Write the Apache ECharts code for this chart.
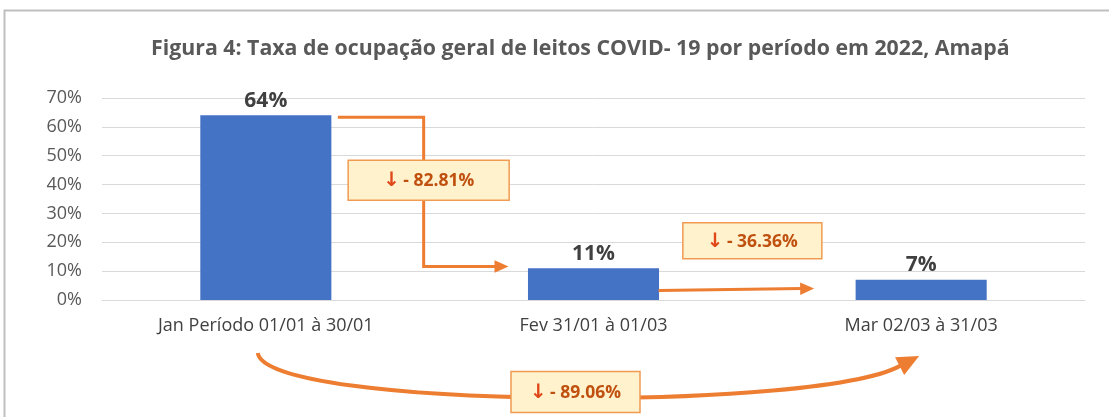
<!DOCTYPE html>
<html>
<head>
<meta charset="utf-8">
<script src="https://cdn.jsdelivr.net/npm/echarts@6/dist/echarts.min.js"></script>
<style>
html, body { margin: 0; padding: 0; background: #fff; }
#main { width: 1109px; height: 417px; }
</style>
</head>
<body>
<div id="main"></div>
<script>
// dados
const periodos = ['Jan Período 01/01 à 30/01', 'Fev 31/01 à 01/03', 'Mar 02/03 à 31/03']
const taxas = [64, 11, 7]
const variacoes = ['- 82.81%', '- 36.36%', '- 89.06%']
const ticksY = [0, 10, 20, 30, 40, 50, 60, 70]

const fonte = '"Open Sans", sans-serif'
const laranja = '#ed7d31'

const chart = echarts.init(document.getElementById('main'))

let option = {
	animation: false,
	title: {
		text: 'Figura 4: Taxa de ocupação geral de leitos COVID- 19 por período em 2022, Amapá',
		left: 146,
		top: 33,
		textStyle: { fontFamily: fonte, fontSize: 21.3, fontWeight: 'bold', color: '#595959' }
	},
	grid: { left: 102, right: 24, top: 98, bottom: 117 },
	xAxis: {
		type: 'category',
		data: periodos,
		axisLine: { show: true, lineStyle: { color: '#d9d9d9', width: 1 } },
		axisTick: { show: false },
		axisLabel: { color: '#404040', fontFamily: fonte, fontSize: 18, margin: 17 }
	},
	yAxis: {
		type: 'value',
		min: ticksY[0],
		max: ticksY[ticksY.length - 1],
		interval: 10,
		axisLine: { show: false },
		axisTick: { show: false },
		splitLine: { lineStyle: { color: '#d9d9d9', width: 1 } },
		axisLabel: { color: '#595959', fontFamily: fonte, fontSize: 18, margin: 20, formatter: '{value}%' }
	},
	series: [{
		type: 'bar',
		data: taxas,
		barWidth: '40%',
		itemStyle: { color: '#4472c4' },
		label: {
			show: true,
			position: 'top',
			distance: 4,
			formatter: '{c}%',
			fontFamily: fonte, fontSize: 21, fontWeight: 'bold', color: '#404040'
		}
	}]
}
chart.setOption(option)

// setas e caixas de variação, posicionadas pelas escalas do gráfico
function px(i, v) { return chart.convertToPixel({ seriesIndex: 0 }, [i, v]) }
const meiaBarra = 65
const p0 = px(0, taxas[0]), p1 = px(1, taxas[1]), p2 = px(2, taxas[2])
const base = px(0, 0)[1]
const fronteira01 = (p0[0] + p1[0]) / 2 - 6

function caixa(cx, cy, w, h, txt) {
	return [
		{ type: 'rect', z: 30, shape: { x: cx - w / 2, y: cy - h / 2, width: w, height: h },
			style: { fill: '#fff2cc', stroke: '#f19b52', lineWidth: 1.5 } },
		{ type: 'text', z: 31, x: cx, y: cy + 1,
			style: { text: '{a|↓} {b|' + txt + '}', align: 'center', verticalAlign: 'middle',
				rich: {
					a: { fill: '#e0481a', fontFamily: 'DejaVu Sans', fontSize: 20, fontWeight: 'bold' },
					b: { fill: '#c0500f', fontFamily: fonte, fontSize: 17.5, fontWeight: 'bold' }
				} } }
	]
}

function ponta(x, y, dx, dy, tam) {
	const n = Math.hypot(dx, dy), ux = dx / n, uy = dy / n
	const bx = x - ux * tam, by = y - uy * tam
	return {
		type: 'polygon', z: 15,
		shape: { points: [[x, y], [bx - uy * tam * 0.45, by + ux * tam * 0.45], [bx + uy * tam * 0.45, by - ux * tam * 0.45]] },
		style: { fill: laranja }
	}
}

// seta 1: Jan -> Fev
const y1a = p0[1] + 2
const y1b = px(1, 11.6)[1]
const x1fim = p1[0] - meiaBarra - 20
// seta 2: Fev -> Mar
const y2 = px(1, 3.6)[1]
const x2fim = p2[0] - meiaBarra - 42
// seta 3: curva Jan -> Mar
const c0 = [p0[0] - 8, base + 53]
const c3 = [p2[0] - 4, base + 57]
const cp1 = [p0[0] - 1, base + 110]
const cp2 = [p2[0] - 90, base + 112]

const grafico = [
	{ type: 'rect', silent: true, shape: { x: 4.5, y: 10.5, width: 1200, height: 500 },
		style: { fill: 'none', stroke: '#bfbfbf', lineWidth: 2 }, z: 0 },
	{ type: 'polyline', z: 10,
		shape: { points: [[p0[0] + meiaBarra + 7, y1a], [fronteira01, y1a], [fronteira01, y1b], [x1fim - 12, y1b]] },
		style: { stroke: laranja, lineWidth: 3, fill: null } },
	ponta(x1fim, y1b, 1, 0, 14),
	{ type: 'line', z: 10,
		shape: { x1: p1[0] + meiaBarra, y1: y2 + 1, x2: x2fim - 12, y2: y2 - 1 },
		style: { stroke: laranja, lineWidth: 3 } },
	ponta(x2fim, y2 - 1, 1, -0.012, 14),
	{ type: 'bezierCurve', z: 10,
		shape: { x1: c0[0], y1: c0[1], cpx1: cp1[0], cpy1: cp1[1], cpx2: cp2[0], cpy2: cp2[1], x2: c3[0] - 14, y2: c3[1] + 7 },
		style: { stroke: laranja, lineWidth: 4, fill: null } },
	ponta(c3[0] + 2, c3[1] - 1, c3[0] - cp2[0] + 20, c3[1] - cp2[1], 22)
].concat(
	caixa(fronteira01 + 5, px(0, 41.5)[1], 161, 40, variacoes[0]),
	caixa((p1[0] + p2[0]) / 2 - 5, px(1, 20.5)[1], 139, 36, variacoes[1]),
	caixa((p0[0] + p2[0]) / 2 - 18, base + 92, 129, 41, variacoes[2])
)

chart.setOption({ graphic: grafico })
</script>
</body>
</html>
